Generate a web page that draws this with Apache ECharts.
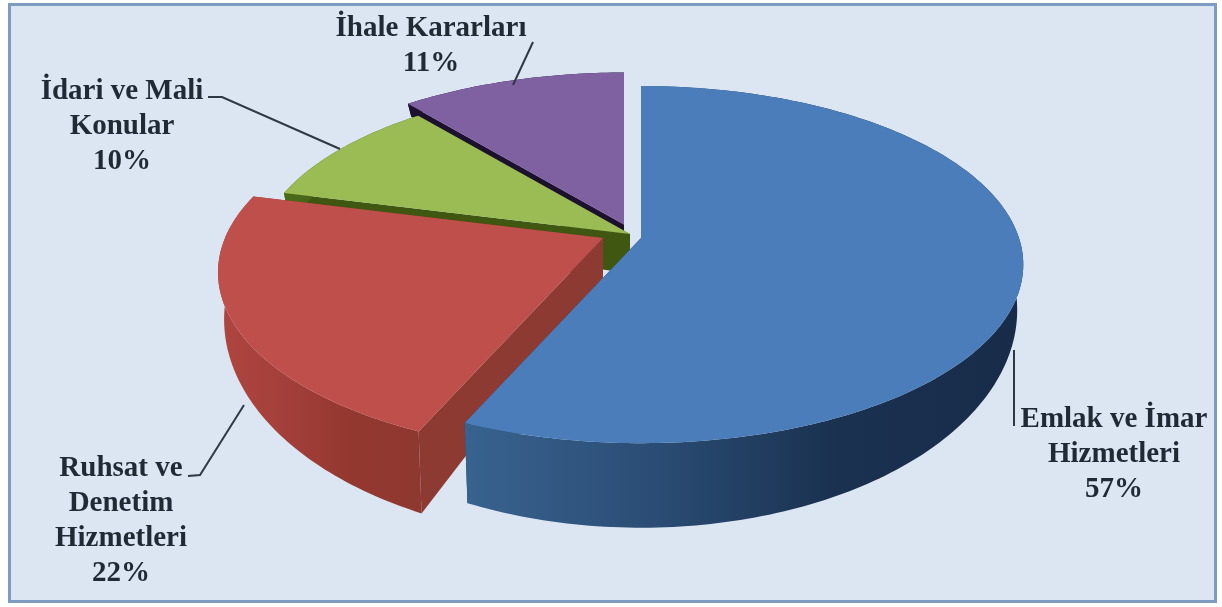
<!DOCTYPE html>
<html><head><meta charset="utf-8">
<style>html,body{margin:0;padding:0;background:#fff}#c{width:1222px;height:607px}</style>
<script src="https://cdn.jsdelivr.net/npm/echarts@6/dist/echarts.min.js"></script>
</head><body><div id="c"></div>
<script>
// ---- data ----
const categories = ['Emlak ve İmar Hizmetleri','Ruhsat ve Denetim Hizmetleri','İdari ve Mali Konular','İhale Kararları'];
const values = [56.6, 22.4, 10, 11];
const labelLines = [['Emlak ve İmar','Hizmetleri','57%'],['Ruhsat ve','Denetim','Hizmetleri','22%'],['İdari ve Mali','Konular','10%'],['İhale Kararları','11%']];
// ---- styling / layout ----
const topColors = ['#4a7dba','#bf4f4b','#9bbb55','#7f60a1'];
const sideStops = [['#38638f','#2b4d75','#1a3150','#182c49'],['#b0453f','#a33f3a','#93382f','#8f3830'],['#4a6a18','#45611a','#3f5a10','#3f5a10'],['#1c1230','#1c1230','#1c1230','#1c1230']];
const faceColors = ['#24405f','#8d3a33','#3f5710','#1c1230'];
const apexes = [[641,238],[603,238],[630,234],[624,224.5]];
const sliceScale = [1,1,0.98,1];
const sliceP = [0.149,0.19,0.149,0.149];
const labelCenters = [[1114,420],[121,469],[122,92],[431,29]];
const leaders = [[[1014,350],[1014,426]],[[188,476],[200,475],[244,405]],[[208,97],[222,97],[340,149]],[[533,42],[513,85]]];
const LINE_H = 34.7, F = 378, FK = 174.6, DEPTH = 39.4, F_B = 372, FK_B = 213;
const FONT_SIZE = 29;

const total = values.reduce((a,b)=>a+b,0);
function project(i, deg, bottom){
  const apex = apexes[i], t = deg*Math.PI/180, u = Math.sin(t), v = Math.cos(t), d = 1+sliceP[i]*v, s = sliceScale[i];
  return [apex[0]+s*(bottom?F_B:F)*u/d, apex[1]+(bottom?DEPTH:0)-s*(bottom?FK_B:FK)*v/d];
}
function arc(i,a,b,bottom){
  const pts=[]; const n=Math.max(2,Math.ceil(Math.abs(b-a)));
  for(let k=0;k<=n;k++) pts.push(project(i,a+(b-a)*k/n,bottom));
  return pts;
}
function renderSlice(params, api){
  const i = params.dataIndex, apex = apexes[i];
  let acc = 0; for(let k=0;k<i;k++) acc += values[k];
  const a = acc/total*360, b = (acc+api.value(0))/total*360;
  const base = (4-i)*10;
  const bApex = [apex[0], apex[1]+DEPTH];
  const stops = sideStops[i].map((c,j)=>({offset:j/3,color:c}));
  const top = arc(i,a,b,false), bot = arc(i,a,b,true);
  const xs = top.map(p=>p[0]);
  const grad = new echarts.graphic.LinearGradient(Math.min(...xs),0,Math.max(...xs),0,stops,true);
  const children = [];
  // radial faces
  [a,b].forEach((ang)=>{
    children.push({type:'polygon',z2:base,shape:{points:[apex,project(i,ang,false),project(i,ang,true),bApex]},style:{fill:faceColors[i]}});
  });
  // outer wall
  children.push({type:'polygon',z2:base+1,shape:{points:top.concat(bot.slice().reverse())},style:{fill:grad}});
  // top surface
  children.push({type:'polygon',z2:base+2,shape:{points:[apex].concat(top)},style:{fill:topColors[i]}});
  // leader
  children.push({type:'polyline',z2:100,shape:{points:leaders[i]},style:{fill:'none',stroke:'#2f3945',lineWidth:2}});
  // label
  labelLines[i].forEach((t,j)=>{
    children.push({type:'text',z2:101,style:{text:t,x:labelCenters[i][0],y:labelCenters[i][1]+j*LINE_H,align:'center',verticalAlign:'middle',
      font:'bold '+FONT_SIZE+'px "Liberation Serif"',fill:'#1f2a35'}});
  });
  return {type:'group',children};
}
const chart = echarts.init(document.getElementById('c'));
chart.setOption({
  animation:false,
  backgroundColor:'#ffffff',
  graphic:[{type:'rect',z:-1,shape:{x:9.5,y:4.5,width:1206,height:597},style:{fill:'#dce6f2',stroke:'#7c9cc0',lineWidth:3}}],
  series:[{type:'custom',coordinateSystem:'none',silent:true,renderItem:renderSlice,
    data:categories.map((name,i)=>({name,value:[values[i]]}))}]
});
</script></body></html>
